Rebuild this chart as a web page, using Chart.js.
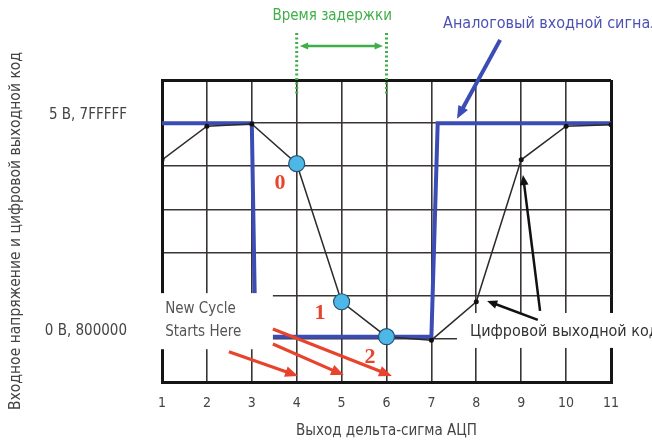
<!DOCTYPE html>
<html>
<head>
<meta charset="utf-8">
<script src="https://cdn.jsdelivr.net/npm/chart.js@4"></script>
<style>
  html, body { margin: 0; padding: 0; background: #fff; }
  #wrap { width: 652px; height: 441px; }
</style>
</head>
<body>
<div id="wrap"><canvas id="adc"></canvas></div>
<script>
// ADC cycles on the x axis
const cycles = [1, 2, 3, 4, 5, 6, 7, 8, 9, 10, 11];
// digital output code (in grid units, 1 = 0 В / 800000, 6 = 5 В / 7FFFFF)
const digitalCode = [5.15, 5.93, 5.98, 5.06, 1.86, 1.05, 0.97, 1.86, 5.15, 5.93, 5.96];
// cycles marked with a blue circle
const markedCycles = [4, 5, 6];
// analog input signal (step down then step up)
const analogX = [1, 3, 3.08, 7.0, 7.14, 11];
const analogY = [6.0, 6.0, 1.05, 1.05, 6.0, 6.0];
// y tick labels
const yTickLabels = { 1: '0 В, 800000', 6: '5 В, 7FFFFF' };

const FONT = '"Liberation Sans Narrow", "DejaVu Sans Condensed", "Noto Sans", sans-serif';

function arrow(ctx, x1, y1, x2, y2, color, width, head, both) {
  ctx.save();
  ctx.strokeStyle = color;
  ctx.fillStyle = color;
  ctx.lineWidth = width;
  const a = Math.atan2(y2 - y1, x2 - x1);
  const sx = both ? x1 + Math.cos(a) * head * 0.8 : x1;
  const sy = both ? y1 + Math.sin(a) * head * 0.8 : y1;
  ctx.beginPath();
  ctx.moveTo(sx, sy);
  ctx.lineTo(x2 - Math.cos(a) * head * 0.8, y2 - Math.sin(a) * head * 0.8);
  ctx.stroke();
  const tip = (x, y, ang) => {
    ctx.beginPath();
    ctx.moveTo(x, y);
    ctx.lineTo(x - head * Math.cos(ang - 0.4), y - head * Math.sin(ang - 0.4));
    ctx.lineTo(x - head * Math.cos(ang + 0.4), y - head * Math.sin(ang + 0.4));
    ctx.closePath();
    ctx.fill();
  };
  tip(x2, y2, a);
  if (both) tip(x1, y1, a + Math.PI);
  ctx.restore();
}

const notes = {
  id: 'notes',
  beforeDatasetsDraw(chart) {
    const { ctx, scales: { x, y } } = chart;
    // white label area over the grid on the right
    ctx.save();
    ctx.fillStyle = '#fff';
    const l = x.getPixelForValue(7.57), t = y.getPixelForValue(1.6), b = y.getPixelForValue(0.79);
    ctx.fillRect(l, t, chart.width - l, b - t);
    ctx.restore();
  },
  afterDatasetsDraw(chart) {
    const { ctx, scales: { x, y } } = chart;
    const X = v => x.getPixelForValue(v);
    const Y = v => y.getPixelForValue(v);
    ctx.save();
    // white box for "New Cycle Starts Here"
    ctx.fillStyle = '#fff';
    ctx.fillRect(X(0.73), Y(2.06), X(3.47) - X(0.73), Y(0.76) - Y(2.06));

    ctx.textBaseline = 'middle';
    // delay time
    ctx.fillStyle = '#3fae49';
    ctx.font = '15px ' + FONT;
    ctx.textAlign = 'center';
    ctx.fillText('Время задержки', X(4.79), Y(8.48));
    ctx.strokeStyle = '#3fae49';
    ctx.lineWidth = 3;
    ctx.setLineDash([2, 2.5]);
    [4, 6].forEach(c => {
      ctx.beginPath();
      ctx.moveTo(X(c), Y(8.09));
      ctx.lineTo(X(c), Y(6.65));
      ctx.stroke();
    });
    ctx.setLineDash([]);
    arrow(ctx, X(4.07), Y(7.79), X(5.92), Y(7.79), '#3fae49', 2.5, 9, true);

    // analog input label
    ctx.fillStyle = '#4b52b2';
    ctx.textAlign = 'left';
    ctx.font = '16px ' + FONT;
    ctx.fillText('Аналоговый входной сигнал', X(7.26), Y(8.3));
    arrow(ctx, X(8.53), Y(7.93), X(7.57), Y(6.1), '#3b4cb5', 4, 14, false);

    // digital output label
    ctx.fillStyle = '#333';
    ctx.fillText('Цифровой выходной код', X(7.86), Y(1.16));
    arrow(ctx, X(9.37), Y(1.44), X(8.24), Y(1.88), '#111', 2.5, 11, false);
    arrow(ctx, X(9.42), Y(1.65), X(9.04), Y(4.8), '#111', 2.5, 11, false);

    // new cycle
    ctx.fillStyle = '#555';
    ctx.font = '15px ' + FONT;
    ctx.fillText('New Cycle', X(1.07), Y(1.69));
    ctx.fillText('Starts Here', X(1.07), Y(1.16));

    // red arrows
    const red = '#e8432d';
    arrow(ctx, X(2.49), Y(0.7), X(4.03), Y(0.14), red, 3.2, 14, false);
    arrow(ctx, X(3.47), Y(0.88), X(5.05), Y(0.16), red, 3.2, 14, false);
    arrow(ctx, X(3.47), Y(1.23), X(6.12), Y(0.14), red, 3.2, 14, false);

    // red numbers
    ctx.fillStyle = red;
    ctx.textAlign = 'center';
    ctx.font = 'bold 22px "Liberation Serif", "DejaVu Serif", serif';
    ctx.fillText('0', X(3.63), Y(4.61));
    ctx.fillText('1', X(4.52), Y(1.6));
    ctx.fillText('2', X(5.63), Y(0.58));
    ctx.restore();
  }
};

const isMarked = c => markedCycles.includes(cycles[c.dataIndex]);

new Chart(document.getElementById('adc'), {
  type: 'scatter',
  data: {
    datasets: [
      {
        label: 'Цифровой выходной код',
        data: cycles.map((c, i) => ({ x: c, y: digitalCode[i] })),
        showLine: true,
        borderColor: '#2e2a2a',
        borderWidth: 1.5,
        pointRadius: c => isMarked(c) ? 8 : 2.5,
        pointBackgroundColor: c => isMarked(c) ? '#4db8e8' : '#111',
        pointBorderColor: c => isMarked(c) ? '#23506e' : '#111',
        pointBorderWidth: c => isMarked(c) ? 1.2 : 0,
      },
      {
        label: 'Аналоговый входной сигнал',
        data: analogX.map((v, i) => ({ x: v, y: analogY[i] })),
        showLine: true,
        borderColor: '#3b4cb5',
        borderWidth: 4,
        pointRadius: 0,
        borderJoinStyle: 'miter',
      },
    ],
  },
  options: {
    responsive: true,
    maintainAspectRatio: false,
    animation: false,
    events: [],
    layout: { padding: { top: 80, right: 41, left: 0, bottom: 0 } },
    plugins: { legend: { display: false }, tooltip: { enabled: false } },
    scales: {
      x: {
        type: 'linear',
        min: 1,
        max: 11,
        afterFit: s => { s.height = 59; },
        ticks: { stepSize: 1, padding: 13, color: '#444', font: { family: FONT, size: 14 } },
        grid: {
          drawTicks: false,
          color: c => (c.index === 0 || c.index === 10) ? '#151515' : '#3a3434',
          lineWidth: c => (c.index === 0 || c.index === 10) ? 3 : 1.6,
        },
        border: { width: 3, color: '#151515' },
        title: {
          display: true,
          text: 'Выход дельта-сигма АЦП',
          color: '#444',
          font: { family: FONT, size: 15 },
          padding: { top: 0, bottom: 1 },
        },
      },
      y: {
        min: 0,
        max: 7,
        afterFit: s => { s.width = 162; },
        ticks: {
          stepSize: 1,
          padding: 35,
          labelOffset: -8,
          color: '#444',
          font: { family: FONT, size: 15 },
          callback: v => yTickLabels[v] || '',
        },
        grid: {
          drawTicks: false,
          color: c => (c.index === 0 || c.index === 7) ? '#151515' : '#3a3434',
          lineWidth: c => (c.index === 0 || c.index === 7) ? 3 : 1.6,
        },
        border: { width: 3, color: '#151515' },
        title: {
          display: true,
          text: 'Входное напряжение и цифровой выходной код',
          color: '#444',
          font: { family: FONT, size: 15.5 },
          padding: { top: 7, bottom: 0 },
        },
      },
    },
  },
  plugins: [notes],
});
</script>
</body>
</html>
